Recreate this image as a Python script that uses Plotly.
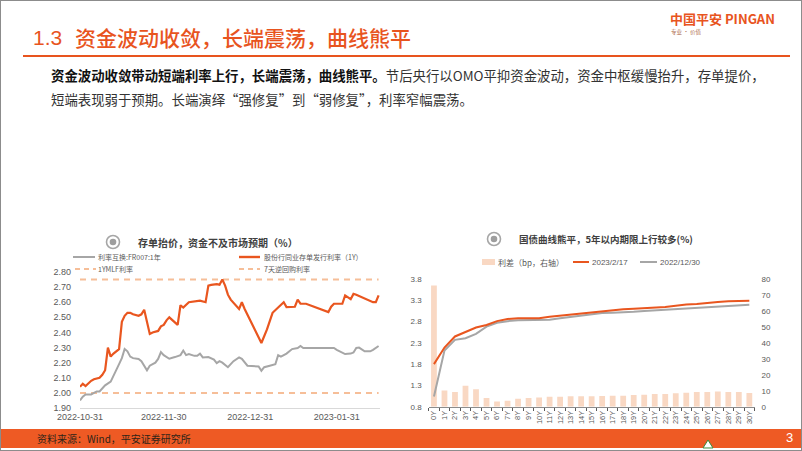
import plotly.graph_objects as go

# ---------------- data ----------------
# left chart: 存单 vs FR007 IRS (%)
cd_dates = ['2022-10-31', '2022-11-01', '2022-11-02', '2022-11-03', '2022-11-04', '2022-11-05',
            '2022-11-07', '2022-11-08', '2022-11-09', '2022-11-10', '2022-11-11', '2022-11-12',
            '2022-11-13', '2022-11-14', '2022-11-15', '2022-11-16', '2022-11-17', '2022-11-18',
            '2022-11-19', '2022-11-21', '2022-11-22', '2022-11-23', '2022-11-25', '2022-11-26',
            '2022-11-28', '2022-11-29', '2022-11-30', '2022-12-01', '2022-12-02', '2022-12-04',
            '2022-12-05', '2022-12-06', '2022-12-07', '2022-12-09', '2022-12-11', '2022-12-13',
            '2022-12-15', '2022-12-16', '2022-12-17', '2022-12-19', '2022-12-20', '2022-12-21',
            '2022-12-22', '2022-12-23', '2022-12-24', '2022-12-26', '2022-12-27', '2022-12-28',
            '2022-12-29', '2023-01-04', '2023-01-06', '2023-01-08', '2023-01-11', '2023-01-12',
            '2023-01-13', '2023-01-15', '2023-01-16', '2023-01-17', '2023-01-18', '2023-01-20',
            '2023-01-28', '2023-01-29', '2023-01-30', '2023-02-02', '2023-02-03', '2023-02-05',
            '2023-02-06', '2023-02-07', '2023-02-09', '2023-02-11', '2023-02-13', '2023-02-14',
            '2023-02-15']
cd_rate = [2.04, 2.06, 2.045, 2.065, 2.08, 2.09,
           2.10, 2.12, 2.15, 2.30, 2.24, 2.26,
           2.275, 2.29, 2.47, 2.51, 2.53, 2.53,
           2.52, 2.51, 2.52, 2.55, 2.39, 2.40,
           2.41, 2.44, 2.45, 2.48, 2.50, 2.47,
           2.45, 2.58, 2.565, 2.60, 2.605, 2.61,
           2.60, 2.71, 2.715, 2.72, 2.716, 2.75,
           2.71, 2.65, 2.617, 2.58, 2.555, 2.60,
           2.555, 2.33, 2.42, 2.53, 2.58, 2.60,
           2.568, 2.568, 2.57, 2.617, 2.59, 2.59,
           2.535, 2.57, 2.59, 2.59, 2.645, 2.62,
           2.655, 2.65, 2.635, 2.617, 2.60, 2.60,
           2.645]

irs_dates = ['2022-10-31', '2022-11-01', '2022-11-02', '2022-11-03', '2022-11-04', '2022-11-05',
             '2022-11-06', '2022-11-07', '2022-11-08', '2022-11-09', '2022-11-11', '2022-11-12',
             '2022-11-13', '2022-11-14', '2022-11-15', '2022-11-16', '2022-11-17', '2022-11-18',
             '2022-11-19', '2022-11-20', '2022-11-21', '2022-11-22', '2022-11-24', '2022-11-25',
             '2022-11-27', '2022-11-28', '2022-11-29', '2022-11-30', '2022-12-02', '2022-12-04',
             '2022-12-06', '2022-12-07', '2022-12-08', '2022-12-09', '2022-12-11', '2022-12-12',
             '2022-12-13', '2022-12-14', '2022-12-16', '2022-12-18', '2022-12-19', '2022-12-20',
             '2022-12-21', '2022-12-23', '2022-12-25', '2022-12-27', '2022-12-28', '2022-12-30',
             '2023-01-01', '2023-01-03', '2023-01-04', '2023-01-05', '2023-01-07', '2023-01-09',
             '2023-01-10', '2023-01-11', '2023-01-13', '2023-01-15', '2023-01-17', '2023-01-18',
             '2023-01-19', '2023-01-22', '2023-01-30', '2023-01-31', '2023-02-01', '2023-02-03',
             '2023-02-05', '2023-02-06', '2023-02-07', '2023-02-08', '2023-02-10', '2023-02-12',
             '2023-02-13', '2023-02-15']
irs_rate = [1.95, 1.975, 1.99, 1.99, 1.99, 2.00,
            2.01, 2.01, 2.03, 2.05, 2.075, 2.11,
            2.15, 2.19, 2.23, 2.29, 2.275, 2.24,
            2.23, 2.225, 2.225, 2.21, 2.15, 2.18,
            2.20, 2.225, 2.27, 2.25, 2.226, 2.237,
            2.25, 2.28, 2.25, 2.257, 2.245, 2.245,
            2.26, 2.235, 2.237, 2.22, 2.197, 2.21,
            2.20, 2.17, 2.21, 2.235, 2.225, 2.18,
            2.18, 2.175, 2.147, 2.17, 2.18, 2.19,
            2.25, 2.24, 2.26, 2.29, 2.297, 2.31,
            2.297, 2.297, 2.297, 2.285, 2.275, 2.257,
            2.26, 2.267, 2.297, 2.30, 2.275, 2.275,
            2.285, 2.31]

mlf_rate = 2.75
repo_rate = 2.00
date_ticks = ['2022-10-31', '2022-11-30', '2022-12-31', '2023-01-31']

# right chart: 国债收益率曲线 (%) and 利差 (bp)
tenors = ['0Y', '1Y', '2Y', '3Y', '4Y', '5Y', '6Y', '7Y', '8Y', '9Y', '10Y', '11Y', '12Y', '13Y',
          '14Y', '15Y', '16Y', '17Y', '18Y', '19Y', '20Y', '21Y', '22Y', '23Y', '24Y', '25Y',
          '26Y', '27Y', '28Y', '29Y', '30Y']
curve_0217 = [1.80, 2.19, 2.45, 2.56, 2.66, 2.72, 2.81, 2.86, 2.88, 2.88, 2.88, 2.915, 2.94, 2.97,
              2.99, 3.02, 3.05, 3.07, 3.09, 3.10, 3.11, 3.13, 3.14, 3.17, 3.20, 3.21,
              3.24, 3.26, 3.275, 3.275, 3.29]
curve_1230 = [1.04, 2.12, 2.37, 2.41, 2.51, 2.68, 2.77, 2.81, 2.83, 2.83, 2.84, 2.845, 2.876, 2.91,
              2.946, 2.98, 3.00, 3.01, 3.017, 3.03, 3.05, 3.064, 3.08, 3.095, 3.11, 3.126,
              3.14, 3.158, 3.17, 3.18, 3.196]
spread_bp = [76, 10.2, 9.2, 13.2, 10.9, 5.4, 3.3, 3.8, 5.0, 5.4, 5.8, 6.3, 6.3, 6.5,
             6.5, 6.5, 6.7, 6.9, 6.9, 7.3, 7.5, 7.9, 7.9, 8.4, 8.8, 9.2,
             9.2, 9.6, 9.2, 9.2, 8.6]

# ---------------- style ----------------
W, H = 802, 451
orange = '#E8541E'
line_orange = '#E9561F'
line_gray = '#A6A6A6'
dash_color = '#F6BE98'
bar_color = '#F9D8C3'
tick_color = '#595959'
title_color = '#404040'
cjk = 'Noto Sans CJK SC'
latin = 'Liberation Sans, Noto Sans CJK SC'


def px(x):
    return x / W


def py(y):
    return 1 - y / H


fig = go.Figure()

# left chart traces
fig.add_trace(go.Scatter(x=[cd_dates[0], cd_dates[-1]], y=[mlf_rate, mlf_rate], mode='lines',
                         line=dict(color=dash_color, width=2, dash='6px,5px'),
                         xaxis='x', yaxis='y', showlegend=False))
fig.add_trace(go.Scatter(x=[cd_dates[0], cd_dates[-1]], y=[repo_rate, repo_rate], mode='lines',
                         line=dict(color=dash_color, width=2, dash='6px,5px'),
                         xaxis='x', yaxis='y', showlegend=False))
fig.add_trace(go.Scatter(x=irs_dates, y=irs_rate, mode='lines',
                         line=dict(color=line_gray, width=2),
                         xaxis='x', yaxis='y', showlegend=False))
fig.add_trace(go.Scatter(x=cd_dates, y=cd_rate, mode='lines',
                         line=dict(color=line_orange, width=2.2),
                         xaxis='x', yaxis='y', showlegend=False))

# right chart traces (bars on base axis so lines draw over them)
fig.add_trace(go.Bar(x=tenors, y=spread_bp, marker=dict(color=bar_color, line=dict(width=0)),
                     xaxis='x2', yaxis='y2', showlegend=False))
fig.add_trace(go.Scatter(x=tenors, y=curve_1230, mode='lines',
                         line=dict(color=line_gray, width=2),
                         xaxis='x2', yaxis='y3', showlegend=False))
fig.add_trace(go.Scatter(x=tenors, y=curve_0217, mode='lines',
                         line=dict(color=line_orange, width=2),
                         xaxis='x2', yaxis='y3', showlegend=False))

tickfont_l = dict(family=latin, size=9, color=tick_color)
tickfont_r = dict(family=latin, size=8, color=tick_color)

fig.update_layout(
    width=W, height=H, autosize=False,
    margin=dict(l=0, r=0, t=0, b=0, pad=0, autoexpand=False),
    paper_bgcolor='white', plot_bgcolor='rgba(0,0,0,0)',
    bargap=0.45,
    xaxis=dict(domain=[px(80), px(380)], anchor='y', type='date', automargin=False,
               range=['2022-10-31', '2023-02-15 12:00'],
               tickvals=date_ticks, ticktext=date_ticks, tickfont=tickfont_l,
               showline=True, linecolor='#D9D9D9', linewidth=1, ticks='',
               showgrid=False, zeroline=False),
    yaxis=dict(domain=[py(408), py(272)], anchor='x', range=[1.90, 2.80], dtick=0.1,
               tickformat='.2f', tickfont=tickfont_l, ticklabelstandoff=8, automargin=False,
               showgrid=False, zeroline=False, showline=False, ticks=''),
    xaxis2=dict(domain=[px(428.7), px(754.6)], anchor='y2', type='category', automargin=False,
                tickangle=-90, tickfont=dict(family=latin, size=7.5, color=tick_color),
                showline=True, linecolor='#8C8C8C', linewidth=1,
                ticks='outside', ticklen=3, tickcolor='#595959', tickson='boundaries',
                showgrid=False, zeroline=False),
    yaxis2=dict(domain=[py(406.7), py(279)], anchor='x2', side='right', range=[0, 80], dtick=10,
                tickfont=tickfont_r, ticklabelstandoff=6, automargin=False,
                showgrid=False, zeroline=False, showline=False, ticks=''),
    yaxis3=dict(overlaying='y2', anchor='x2', side='left', range=[0.8, 3.8], tick0=0.8, dtick=0.5,
                tickformat='.1f', tickfont=tickfont_r, ticklabelstandoff=6, automargin=False,
                showgrid=False, zeroline=False, showline=False, ticks=''),
)

shapes = []
ann = []


def text(x, y, s, size, color, anchor='left', family=cjk, weight='normal'):
    ann.append(dict(x=px(x), y=py(y), xref='paper', yref='paper', text=s, showarrow=False,
                    xanchor=anchor, yanchor='middle', borderpad=0,
                    font=dict(family=family, size=size, color=color, weight=weight)))


def hline(x0, x1, y, color, width, dash='solid'):
    shapes.append(dict(type='line', xref='paper', yref='paper', x0=px(x0), x1=px(x1),
                       y0=py(y), y1=py(y), line=dict(color=color, width=width, dash=dash)))


def icon(cx, cy):
    shapes.append(dict(type='circle', xref='paper', yref='paper',
                       x0=px(cx - 6.5), x1=px(cx + 6.5), y0=py(cy + 6.5), y1=py(cy - 6.5),
                       line=dict(color='#A6A6A6', width=1.6), fillcolor='white'))
    shapes.append(dict(type='circle', xref='paper', yref='paper',
                       x0=px(cx - 3.3), x1=px(cx + 3.3), y0=py(cy + 3.3), y1=py(cy - 3.3),
                       line=dict(width=0), fillcolor='#9E9E9E'))


# header
text(32, 37, '1.3', 21, orange, family=latin)
text(74, 37, '资金波动收敛，长端震荡，曲线熊平', 21, orange, weight=500)
hline(23, 790, 56, orange, 2.2)
text(722, 18, '<b>中国平安 PINGAN</b>', 13, orange, anchor='center')
text(686, 32, '专业 · 价值', 5.5, '#B07050', anchor='center')

# body text
text(50, 75, '<b>资金波动收敛带动短端利率上行，长端震荡，曲线熊平。</b>'
             '<span style="color:#333333">节后央行以OMO平抑资金波动，资金中枢缓慢抬升，存单提价，</span>',
     13.4, '#111111')
text(50, 99, '短端表现弱于预期。长端演绎“强修复”到“弱修复”，利率窄幅震荡。', 13.4, '#333333')

# left chart title + legend
icon(113, 242)
text(137, 242, '<b>存单抬价，资金不及市场预期（%）</b>', 10, title_color)
hline(73, 95, 257, line_gray, 2)
text(97, 257, '利率互换:FR007:1年', 7, tick_color)
hline(239, 260, 257, line_orange, 2.4)
text(263, 257, '股份行同业存单发行利率（1Y）', 7, tick_color)
hline(75, 96, 269, dash_color, 2, '5px,4px')
text(97, 269, '1YMLF利率', 7, tick_color)
hline(239, 260, 269, dash_color, 2, '5px,4px')
text(263, 269, '7天逆回购利率', 7, tick_color)

# right chart title + legend
icon(494, 239)
text(518, 239, '<b>国债曲线熊平，5年以内期限上行较多(%)</b>', 9.5, title_color)
shapes.append(dict(type='rect', xref='paper', yref='paper', x0=px(482), x1=px(495),
                   y0=py(265), y1=py(259), line=dict(width=0), fillcolor=bar_color))
text(497, 262, '利差（bp，右轴）', 8, tick_color)
hline(573, 589, 262, line_orange, 2)
text(591, 262, '2023/2/17', 8, tick_color, family=latin)
hline(640, 657, 262, line_gray, 2)
text(659, 262, '2022/12/30', 8, tick_color, family=latin)

# footer
shapes.append(dict(type='rect', xref='paper', yref='paper', x0=0, x1=1, y0=py(448), y1=py(429),
                   line=dict(width=0), fillcolor='#EE5A24', layer='below'))
shapes.append(dict(type='path', xref='paper', yref='paper',
                   path='M {:.4f},{:.4f} L {:.4f},{:.4f} L {:.4f},{:.4f} Z'.format(
                       px(703), py(448), px(708), py(440), px(713), py(448)),
                   fillcolor='white', line=dict(color='#3C8C3C', width=1)))
text(36, 438, '资料来源：Wind，平安证券研究所', 10, '#2E2418')
text(789, 437, '3', 13, 'white', anchor='center', family=latin)

# slide frame
shapes.append(dict(type='rect', xref='paper', yref='paper', x0=0, x1=1, y0=0, y1=1,
                   line=dict(color='#8C8C8C', width=2)))

fig.update_layout(shapes=shapes, annotations=ann)

fig.write_html("out.html", config={'displayModeBar': False},
               post_script="document.body.style.margin='0';document.body.style.overflow='hidden';")
